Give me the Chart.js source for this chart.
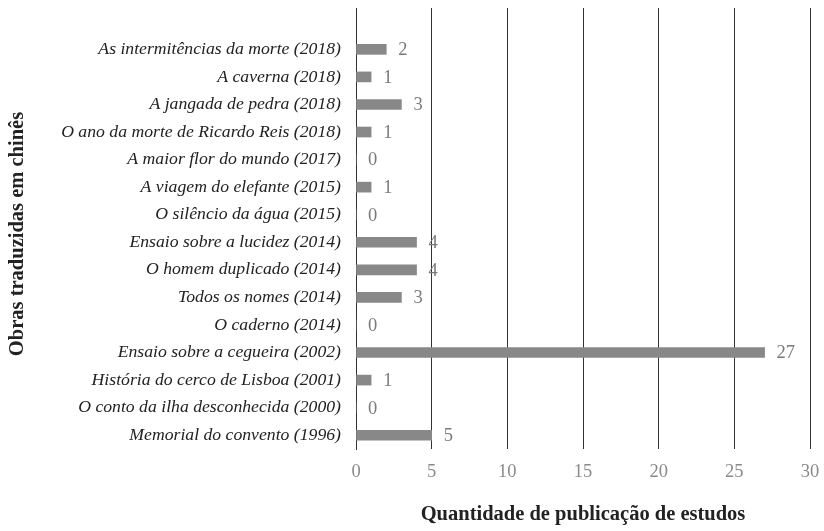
<!DOCTYPE html>
<html>
<head>
<meta charset="utf-8">
<script src="https://cdn.jsdelivr.net/npm/chart.js@4.4.1/dist/chart.umd.min.js"></script>
<style>
  html, body { margin: 0; padding: 0; background: #fff; }
  #wrap { width: 824px; height: 531px; }
</style>
</head>
<body>
<div id="wrap"><canvas id="chart"></canvas></div>
<script>
// Data (top row is an empty slot, as in the original spreadsheet)
const obras = [
    '',
    'As intermitências da morte (2018)',
    'A caverna (2018)',
    'A jangada de pedra (2018)',
    'O ano da morte de Ricardo Reis (2018)',
    'A maior flor do mundo (2017)',
    'A viagem do elefante (2015)',
    'O silêncio da água (2015)',
    'Ensaio sobre a lucidez (2014)',
    'O homem duplicado (2014)',
    'Todos os nomes (2014)',
    'O caderno (2014)',
    'Ensaio sobre a cegueira (2002)',
    'História do cerco de Lisboa (2001)',
    'O conto da ilha desconhecida (2000)',
    'Memorial do convento (1996)'
];
const publicacoes = [null, 2, 1, 3, 1, 0, 1, 0, 4, 4, 3, 0, 27, 1, 0, 5];
const xTicks = [0, 5, 10, 15, 20, 25, 30];
const yTitle = 'Obras traduzidas em chinês';

const SERIF = '"Liberation Serif", "DejaVu Serif", serif';

// value labels to the right of each bar
const valueLabels = {
    id: 'valueLabels',
    afterDatasetsDraw(chart) {
        const { ctx } = chart;
        const xs = chart.scales.x;
        ctx.save();
        ctx.font = '18.5px ' + SERIF;
        ctx.fillStyle = '#7a7a7a';
        ctx.textAlign = 'left';
        ctx.textBaseline = 'middle';
        chart.getDatasetMeta(0).data.forEach((bar, i) => {
            const v = publicacoes[i];
            if (v === null) return;
            ctx.fillText(String(v), xs.getPixelForValue(v) + 12, bar.y + 1);
        });
        ctx.restore();
    }
};

// rotated y title
const sideTitle = {
    id: 'sideTitle',
    afterDraw(chart) {
        const { ctx } = chart;
        ctx.save();
        ctx.translate(18, 234);
        ctx.rotate(-Math.PI / 2);
        ctx.font = 'bold 20.5px ' + SERIF;
        ctx.fillStyle = '#222';
        ctx.textAlign = 'center';
        ctx.textBaseline = 'middle';
        ctx.fillText(yTitle, 0, 0);
        ctx.restore();
    }
};

new Chart(document.getElementById('chart'), {
    type: 'bar',
    data: {
        labels: obras,
        datasets: [{
            data: publicacoes,
            backgroundColor: '#888888',
            borderWidth: 0,
            barThickness: 10
        }]
    },
    plugins: [valueLabels, sideTitle],
    options: {
        indexAxis: 'y',
        responsive: true,
        maintainAspectRatio: false,
        animation: false,
        layout: { padding: { top: 8, right: 14, bottom: 0, left: 0 } },
        plugins: {
            legend: { display: false },
            tooltip: { enabled: false }
        },
        scales: {
            x: {
                min: 0,
                max: 30,
                afterBuildTicks: (scale) => { scale.ticks = xTicks.map(v => ({ value: v })); },
                afterFit: (scale) => {
                    scale.height = 82;
                    scale.paddingLeft = 0;
                    scale.paddingRight = 0;
                },
                grid: { color: '#333333', lineWidth: 1, drawTicks: false },
                border: { display: false },
                ticks: {
                    padding: 12,
                    color: '#8a8a8a',
                    font: { family: SERIF, size: 18.5 }
                },
                title: {
                    display: true,
                    text: 'Quantidade de publicação de estudos',
                    color: '#222',
                    font: { family: SERIF, size: 20.5, weight: 'bold' },
                    padding: { top: 19 }
                }
            },
            y: {
                afterFit: (scale) => {
                    scale.width = 356;
                    scale.paddingTop = 0;
                    scale.paddingBottom = 0;
                },
                grid: { display: false, drawTicks: false },
                border: { display: true, color: '#333333', width: 1 },
                ticks: {
                    padding: 15,
                    color: '#222',
                    font: { family: SERIF, size: 17.7, style: 'italic' }
                }
            }
        }
    }
});
</script>
</body>
</html>
